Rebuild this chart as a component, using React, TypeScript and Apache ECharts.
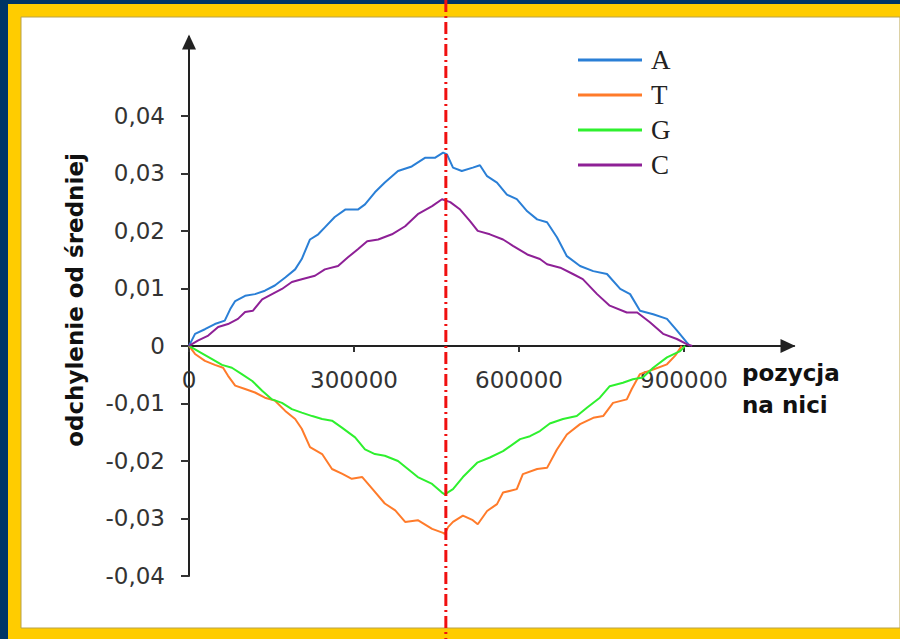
import React, { useEffect, useRef } from "react";
import * as echarts from "echarts";

// ---- data (positions in bp, deviation from mean) ----
const seriesNames = ["A", "T", "G", "C"];

const seriesA: [number, number][] = [
  [0, 0], [11000, 0.0021], [29000, 0.0029], [47000, 0.0038], [65000, 0.0044], [75000, 0.0064],
  [84000, 0.0078], [102000, 0.0087], [120000, 0.009], [138000, 0.0096], [156000, 0.0105],
  [175000, 0.0119], [193000, 0.0133], [205000, 0.0151], [220000, 0.0185], [235000, 0.0194],
  [247000, 0.0206], [265000, 0.0224], [284000, 0.0237], [307000, 0.0237], [320000, 0.0246],
  [338000, 0.0267], [356000, 0.0284], [380000, 0.0304], [405000, 0.0312], [429000, 0.0327],
  [447000, 0.0327], [462000, 0.0336], [469000, 0.0333], [480000, 0.031], [496000, 0.0304],
  [516000, 0.031], [529000, 0.0314], [542000, 0.0295], [560000, 0.0284], [578000, 0.0263],
  [596000, 0.0255], [615000, 0.0234], [633000, 0.022], [651000, 0.0215], [669000, 0.0189],
  [687000, 0.0156], [711000, 0.0139], [735000, 0.013], [760000, 0.0125], [784000, 0.0099],
  [802000, 0.009], [820000, 0.0061], [844000, 0.0055], [869000, 0.0047], [887000, 0.0027],
  [905000, 0.0006], [911000, 0],
];

const seriesT: [number, number][] = [
  [0, 0], [11000, -0.0014], [29000, -0.0026], [47000, -0.0033], [62000, -0.0038], [71000, -0.0052],
  [84000, -0.0069], [102000, -0.0075], [120000, -0.0081], [138000, -0.009], [156000, -0.0095],
  [175000, -0.0113], [193000, -0.0127], [205000, -0.0144], [220000, -0.0176], [242000, -0.0188],
  [260000, -0.0214], [278000, -0.0222], [296000, -0.0231], [315000, -0.0228], [333000, -0.0248],
  [356000, -0.0274], [375000, -0.0286], [393000, -0.0306], [416000, -0.0303], [442000, -0.0318],
  [462000, -0.0325], [465000, -0.0327], [471000, -0.0315], [480000, -0.0306], [498000, -0.0295],
  [516000, -0.0303], [525000, -0.031], [542000, -0.0287], [560000, -0.0275], [571000, -0.0255],
  [596000, -0.0249], [607000, -0.0223], [633000, -0.0214], [651000, -0.0212], [669000, -0.018],
  [687000, -0.0154], [711000, -0.0136], [735000, -0.0125], [753000, -0.0122], [771000, -0.0099],
  [796000, -0.0093], [805000, -0.0075], [820000, -0.0049], [844000, -0.0041], [869000, -0.0032],
  [884000, -0.0017], [896000, 0],
];

const seriesG: [number, number][] = [
  [0, 0], [22000, -0.0012], [42000, -0.0023], [60000, -0.0033], [78000, -0.0038], [96000, -0.0049],
  [115000, -0.0061], [133000, -0.0078], [151000, -0.0093], [169000, -0.0099], [187000, -0.011],
  [205000, -0.0116], [224000, -0.0122], [242000, -0.0127], [260000, -0.013], [278000, -0.0142],
  [302000, -0.0159], [320000, -0.018], [338000, -0.0188], [356000, -0.0191], [380000, -0.02],
  [398000, -0.0214], [416000, -0.0228], [442000, -0.024], [460000, -0.0255], [465000, -0.0258],
  [480000, -0.0249], [498000, -0.0228], [524000, -0.0203], [547000, -0.0194], [571000, -0.0183],
  [602000, -0.0162], [620000, -0.0157], [638000, -0.0148], [656000, -0.0135], [680000, -0.0127],
  [705000, -0.0122], [724000, -0.0107], [747000, -0.009], [765000, -0.007], [789000, -0.0064],
  [807000, -0.0058], [825000, -0.0055], [844000, -0.0038], [869000, -0.002], [893000, -0.0009],
  [902000, 0],
];

const seriesC: [number, number][] = [
  [0, 0], [16000, 0.0009], [35000, 0.0018], [53000, 0.0033], [71000, 0.0038], [89000, 0.0047],
  [102000, 0.0059], [116000, 0.0061], [133000, 0.0081], [151000, 0.009], [169000, 0.0099],
  [187000, 0.0111], [205000, 0.0116], [229000, 0.0122], [247000, 0.0133], [271000, 0.0139],
  [289000, 0.0154], [307000, 0.0168], [324000, 0.0182], [344000, 0.0185], [369000, 0.0194],
  [393000, 0.0208], [416000, 0.0229], [442000, 0.0243], [460000, 0.0255], [475000, 0.025],
  [493000, 0.0237], [511000, 0.0217], [525000, 0.02], [547000, 0.0194], [571000, 0.0185],
  [589000, 0.0174], [615000, 0.0159], [638000, 0.0151], [651000, 0.0142], [675000, 0.0136],
  [698000, 0.0125], [716000, 0.0116], [742000, 0.009], [765000, 0.007], [796000, 0.0058],
  [815000, 0.0058], [838000, 0.0041], [862000, 0.0021], [887000, 0.0012], [905000, 0.0003],
  [915000, 0],
];

const xTickValues = [0, 300000, 600000, 900000];
const yTickValues = [-0.04, -0.03, -0.02, -0.01, 0, 0.01, 0.02, 0.03, 0.04];
const terminusPosition = 467000;

const yTitle = "odchylenie od średniej";
const xTitle = "pozycja\nna nici";

// ---- styles ----
const colors = ["#2a7fd6", "#ff7b2a", "#2ef02e", "#8e2096"];
const navy = "#003466";
const yellow = "#ffcc00";
const W = 900;
const H = 639;
const GRID_TOP = 37;
const GRID_H = 539;

export default function App() {
  const ref = useRef<HTMLDivElement>(null);

  useEffect(() => {
    document.body.style.margin = "0";
    if (!ref.current) return;
    const chart = echarts.init(ref.current, undefined, { renderer: "svg" });
    const dataSets = [seriesA, seriesT, seriesG, seriesC];

    const labelFont = { fontFamily: "DejaVu Sans", fontSize: 23, color: "#333" };

    chart.setOption({
      animation: false,
      backgroundColor: "#fff",
      grid: { left: 189, top: GRID_TOP, width: 605, height: GRID_H, containLabel: false, outerBoundsMode: "none" },
      legend: {
        data: seriesNames,
        orient: "vertical",
        left: 578,
        top: 45,
        padding: 0,
        itemWidth: 64,
        itemHeight: 3,
        itemGap: 5,
        icon: "rect",
        textStyle: {
          fontFamily: "Liberation Serif",
          fontSize: 27,
          lineHeight: 30,
          color: "#222",
          padding: [0, 0, 0, 4],
        },
      },
      xAxis: {
        type: "value",
        min: 0,
        max: 1100000,
        position: "bottom",
        offset: 0,
        axisLine: {
          onZero: false,
          symbol: ["none", "triangle"],
          symbolSize: [14, 15],
          symbolOffset: [0, -6],
          lineStyle: { color: "#222", width: 2 },
        },
        axisTick: { show: true, length: 6, customValues: xTickValues, lineStyle: { color: "#333", width: 2 } },
        axisLabel: {
          ...labelFont,
          margin: 23,
          customValues: xTickValues,
          formatter: (v: number) => String(v),
        },
        splitLine: { show: false },
      },
      yAxis: {
        type: "value",
        min: -0.04,
        max: 0.0537,
        axisLine: {
          show: true,
          symbol: ["none", "triangle"],
          symbolSize: [14, 15],
          symbolOffset: [0, -5],
          lineStyle: { color: "#222", width: 2 },
        },
        axisTick: { show: true, length: 8, customValues: yTickValues, lineStyle: { color: "#333", width: 2 } },
        axisLabel: {
          ...labelFont,
          margin: 24,
          customValues: yTickValues,
          formatter: (v: number) => (Math.abs(v) < 1e-9 ? "0" : v.toFixed(2).replace(".", ",")),
        },
        splitLine: { show: false },
      },
      series: dataSets.map((d, i) => ({
        name: seriesNames[i],
        type: "line",
        data: d,
        symbol: "none",
        showSymbol: false,
        color: colors[i],
        lineStyle: { color: colors[i], width: 2 },
        z: 3,
      })),
      graphic: [
        { id: "navy", type: "rect", z: -30, silent: true, shape: { x: 0, y: 0, width: W, height: H }, style: { fill: navy } },
        { id: "yellow", type: "rect", z: -29, silent: true, shape: { x: 8, y: 4, width: W - 8, height: H - 4 }, style: { fill: yellow } },
        { id: "white", type: "rect", z: -28, silent: true, shape: { x: 21, y: 17, width: W - 21, height: 628 - 17 }, style: { fill: "#fff", stroke: "#b8a24a", lineWidth: 1 } },
        {
          id: "ytitle",
          type: "text",
          z: 10,
          x: 75,
          y: 300,
          rotation: Math.PI / 2,
          style: {
            text: yTitle,
            fontFamily: "DejaVu Sans",
            fontWeight: "bold",
            fontSize: 23,
            fill: "#111",
            align: "center",
            verticalAlign: "middle",
          },
        },
        {
          id: "xtitle",
          type: "text",
          z: 10,
          x: 742,
          y: 357,
          style: {
            text: xTitle,
            fontFamily: "DejaVu Sans",
            fontWeight: "bold",
            fontSize: 23,
            lineHeight: 32,
            fill: "#111",
            align: "left",
            verticalAlign: "top",
          },
        },
      ],
    });

    // move the x axis (line, ticks and labels) to y = 0, and draw the terminus marker
    const zeroY = chart.convertToPixel({ yAxisIndex: 0 }, 0) as number;
    const px = chart.convertToPixel({ xAxisIndex: 0 }, terminusPosition) as number;
    chart.setOption({
      xAxis: { offset: zeroY - (GRID_TOP + GRID_H) },
      graphic: [
        {
          id: "terminus",
          type: "line",
          z: 100,
          silent: true,
          shape: { x1: px, y1: 0, x2: px, y2: H },
          style: { stroke: "#f01010", lineWidth: 3, lineDash: [12, 4, 2, 4] },
        },
      ],
    });

    return () => chart.dispose();
  }, []);

  return <div ref={ref} style={{ width: W, height: H }} />;
}
